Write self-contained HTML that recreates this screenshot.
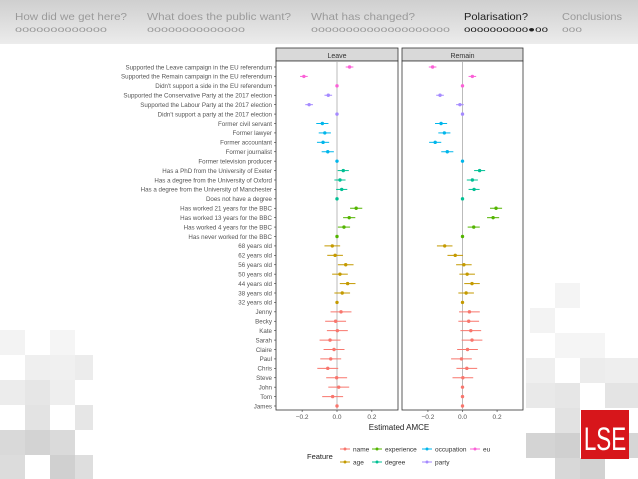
<!DOCTYPE html>
<html><head><meta charset="utf-8"><style>
body{margin:0;width:638px;height:479px;overflow:hidden;background:#fff;font-family:"Liberation Sans",sans-serif}
svg{display:block}
</style></head><body>
<svg id="s" width="638" height="479" xmlns="http://www.w3.org/2000/svg">
<defs><linearGradient id="hg" x1="0" y1="0" x2="0" y2="1"><stop offset="0" stop-color="#cfcfcf"/><stop offset="1" stop-color="#ececec"/></linearGradient></defs>
<rect x="0" y="0" width="638" height="44" fill="url(#hg)"/>
<g font-size="10.5" fill="#9a9a9a">
<text x="15" y="20" textLength="112" lengthAdjust="spacingAndGlyphs">How did we get here?</text>
<text x="15" y="32" font-size="8" textLength="92" lengthAdjust="spacingAndGlyphs">ooooooooooooo</text>
<text x="147" y="20" textLength="144" lengthAdjust="spacingAndGlyphs">What does the public want?</text>
<text x="147" y="32" font-size="8" textLength="98" lengthAdjust="spacingAndGlyphs">oooooooooooooo</text>
<text x="311" y="20" textLength="104" lengthAdjust="spacingAndGlyphs">What has changed?</text>
<text x="311" y="32" font-size="8" textLength="139" lengthAdjust="spacingAndGlyphs">oooooooooooooooooooo</text>
<text x="464" y="20" fill="#222" textLength="64" lengthAdjust="spacingAndGlyphs">Polarisation?</text>
<text x="464" y="32" font-size="8" fill="#222" textLength="84" lengthAdjust="spacingAndGlyphs">oooooooooo●oo</text>
<text x="562" y="20" textLength="60" lengthAdjust="spacingAndGlyphs">Conclusions</text>
<text x="562" y="32" font-size="8" textLength="20" lengthAdjust="spacingAndGlyphs">ooo</text>
</g>
<g id="tiles"></g>
<rect x="93" y="44" width="433" height="433" fill="#fff"/>
<g id="chart"></g>
<rect x="581" y="410" width="48" height="49" fill="#d7161b"/>
<text x="605" y="450" font-size="32" fill="#fff" text-anchor="middle" transform="translate(605,0) scale(0.7,1) translate(-605,0)">LSE</text>
</svg>
<script>
const labels=["Supported the Leave campaign in the EU referendum","Supported the Remain campaign in the EU referendum","Didn't support a side in the EU referendum","Supported the Conservative Party at the 2017 election","Supported the Labour Party at the 2017 election","Didn't support a party at the 2017 election","Former civil servant","Former lawyer","Former accountant","Former journalist","Former television producer","Has a PhD from the University of Exeter","Has a degree from the University of Oxford","Has a degree from the University of Manchester","Does not have a degree","Has worked 21 years for the BBC","Has worked 13 years for the BBC","Has worked 4 years for the BBC","Has never worked for the BBC","68 years old","62 years old","56 years old","50 years old","44 years old","38 years old","32 years old","Jenny","Becky","Kate","Sarah","Claire","Paul","Chris","Steve","John","Tom","James"];
const features=["eu","eu","eu","party","party","party","occupation","occupation","occupation","occupation","occupation","degree","degree","degree","degree","experience","experience","experience","experience","age","age","age","age","age","age","age","name","name","name","name","name","name","name","name","name","name","name"];
const leaveVals=[0.072,-0.19,0,-0.05,-0.16,0,-0.084,-0.07,-0.08,-0.053,0,0.036,0.017,0.027,0,0.11,0.07,0.04,0,-0.027,-0.011,0.05,0.017,0.061,0.03,0,0.023,-0.008,0.002,-0.04,-0.017,-0.036,-0.053,-0.002,0.01,-0.025,0];
const remainVals=[-0.173,0.057,0,-0.13,-0.015,0,-0.124,-0.105,-0.158,-0.088,0,0.099,0.057,0.067,0,0.194,0.177,0.065,0,-0.103,-0.042,0.008,0.027,0.055,0.021,0,0.04,0.036,0.048,0.055,0.029,-0.006,0.025,0.002,0,0,0];
const ciHalf={eu:0.022,party:0.022,occupation:0.035,degree:0.032,experience:0.035,age:0.045,name:0.06};
const xTicks=[-0.2,0,0.2];
const xTickLabels=["\u22120.2","0.0","0.2"];
const colors={name:"#F8766D",age:"#C49A00",experience:"#53B400",degree:"#00C094",occupation:"#00B6EB",party:"#A58AFF",eu:"#FB61D7"};
const NS="http://www.w3.org/2000/svg";
const g=document.getElementById('chart');
function el(t,a,p){const e=document.createElementNS(NS,t);for(const k in a)e.setAttribute(k,a[k]);(p||g).appendChild(e);return e;}
const yTop=67,yBot=406;
const yS=i=>yTop+i*(yBot-yTop)/(labels.length-1);
const panels=[{name:"Leave",x0:276,x1:398,vals:leaveVals},{name:"Remain",x0:402,x1:523,vals:remainVals}];
const dom=[-0.35,0.35];
panels.forEach((p,pi)=>{
 const xS=v=>p.x0+(v-dom[0])/(dom[1]-dom[0])*(p.x1-p.x0);
 let r=el('rect',{x:p.x0,y:48,width:p.x1-p.x0,height:13,fill:'#d9d9d9',stroke:'#333','stroke-width':0.8});
 
 let t=el('text',{x:(p.x0+p.x1)/2,y:58,'font-size':7,fill:'#333','text-anchor':'middle'});t.textContent=p.name;
 
 let fr=el('rect',{x:p.x0,y:61,width:p.x1-p.x0,height:349,fill:'#fff',stroke:'#333','stroke-width':0.8});
 
 let z=el('line',{x1:xS(0),x2:xS(0),y1:61,y2:410,stroke:'#aaa','stroke-width':0.8});
 
 xTicks.forEach((v,k)=>{
  let tl=el('text',{x:xS(v),y:419,'font-size':6.5,fill:'#555','text-anchor':'middle'});tl.textContent=xTickLabels[k];
  
  el('line',{x1:xS(v),x2:xS(v),y1:410,y2:412,stroke:'#333','stroke-width':0.6});
 });
 p.vals.forEach((v,i)=>{
  const c=colors[features[i]],h=v===0?0:ciHalf[features[i]];
  let l=el('line',{x1:xS(v-h),x2:xS(v+h),y1:yS(i),y2:yS(i),stroke:c,'stroke-width':1});
  
  let d=el('circle',{cx:xS(v),cy:yS(i),r:1.7,fill:c});
  
 });
});
labels.forEach((s,i)=>{
 let t=el('text',{x:272,y:yS(i)+2.3,'font-size':6.2,fill:'#555','text-anchor':'end'});t.textContent=s;
 
 el('line',{x1:274,x2:276,y1:yS(i),y2:yS(i),stroke:'#333','stroke-width':0.6});
});
let xt=el('text',{x:337+62,y:430,'font-size':8,fill:'#222','text-anchor':'middle'});xt.textContent="Estimated AMCE";

let lt=el('text',{x:307,y:459,'font-size':7.5,fill:'#222'});lt.textContent="Feature";

const legendItems=[["name",340,449],["experience",372,449],["occupation",422,449],["eu",470,449],["age",340,462],["degree",372,462],["party",422,462]];
legendItems.forEach(([f,x,y])=>{
 const c=colors[f];
 let lg=el('g',{});
 el('line',{x1:x,x2:x+10,y1:y,y2:y,stroke:c,'stroke-width':1},lg);
 el('circle',{cx:x+5,cy:y,r:1.5,fill:c},lg);
 let t=el('text',{x:x+13,y:y+2.3,'font-size':6.5,fill:'#333'},lg);t.textContent=f;
});
const tiles=document.getElementById('tiles');
const tileDefs=[[0,330,25,25,'#f3f3f3'],[50,330,25,25,'#f5f5f5'],[25,355,25,25,'#efefef'],[50,355,25,25,'#f0f0f0'],[75,355,18,25,'#ececec'],[0,380,25,25,'#ececec'],[25,380,25,25,'#e6e6e6'],[50,380,25,25,'#eeeeee'],[25,405,25,25,'#e3e3e3'],[75,405,18,25,'#e6e6e6'],[0,430,25,25,'#d9d9d9'],[25,430,25,25,'#d3d3d3'],[50,430,25,25,'#dadada'],[0,455,25,24,'#dcdcdc'],[50,455,25,24,'#d0d0d0'],[75,455,18,24,'#dedede'],
[555,283,25,25,'#f4f4f4'],[530,308,25,25,'#f3f3f3'],[555,333,25,25,'#f5f5f5'],[580,333,25,25,'#f5f5f5'],[526,358,29,25,'#efefef'],[580,358,25,25,'#ececec'],[605,358,33,25,'#eeeeee'],[526,383,29,25,'#e9e9e9'],[555,383,25,25,'#e6e6e6'],[605,383,33,25,'#e4e4e4'],[555,408,25,25,'#e2e2e2'],[526,433,29,25,'#d4d4d4'],[555,433,25,25,'#d0d0d0'],[605,433,33,25,'#d6d6d6'],[555,458,25,21,'#d8d8d8'],[580,458,25,21,'#d2d2d2']];
tileDefs.forEach(a=>{const r=el('rect',{x:a[0],y:a[1],width:a[2],height:a[3],fill:a[4]},tiles);});
</script>
</body></html>
